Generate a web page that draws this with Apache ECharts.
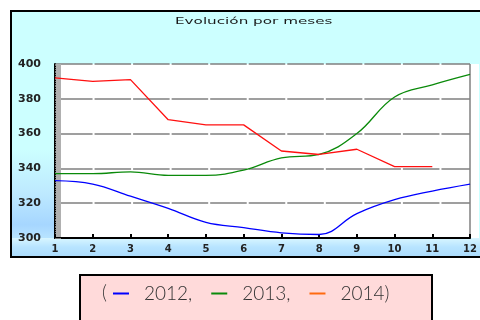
<!DOCTYPE html>
<html>
<head>
<meta charset="utf-8">
<script src="https://cdn.jsdelivr.net/npm/echarts@6/dist/echarts.min.js"></script>
<style>
  html, body { margin: 0; padding: 0; background: #ffffff; }
  #chart { width: 480px; height: 320px; }
</style>
</head>
<body>
<div id="chart"></div>
<script>
// Monthly values per year
const months = ['1', '2', '3', '4', '5', '6', '7', '8', '9', '10', '11', '12'];
const years = ['2012', '2013', '2014'];
const values2012 = [333, 331, 324, 317, 309, 306, 303, 302, 314, 322, 327, 331];
const values2013 = [337, 337, 338, 336, 336, 339, 346, 348, 360, 381, 388, 394];
const values2014 = [392, 390, 391, 368, 365, 365, 350, 348, 351, 341, 341, null];
const yTicks = [300, 320, 340, 360, 380, 400];
const chartTitle = 'Evolución por meses';

const lineColors = ['#0000ff', '#0a8a0a', '#ff1010'];
const legendColors = ['#0000ff', '#0a8a0a', '#ff6a10'];

const gridLeft = 55, gridTop = 64, gridRight = 1, gridBottom = 82;
const plotW = 480 - gridLeft - gridRight, plotH = 320 - gridTop - gridBottom;
const step = plotW / (months.length - 1);

const chart = echarts.init(document.getElementById('chart'), null, { renderer: 'canvas' });

const option = {
  animation: false,
  graphic: [
    // outer panel
    { type: 'rect', z: -10, shape: { x: 11, y: 11, width: 480, height: 246 },
      style: { fill: '#ccffff', stroke: '#000', lineWidth: 2 } },
    // shaded value-label column
    { type: 'rect', z: -9, shape: { x: 12, y: 150, width: 43, height: 88 },
      style: { fill: new echarts.graphic.LinearGradient(0, 0, 0, 1, [
        { offset: 0, color: '#ccffff' },
        { offset: 0.5, color: '#bde9ff' },
        { offset: 0.85, color: '#a6d6ff' },
        { offset: 1, color: '#b8e4ff' }
      ]) } },
    // shaded month-label band
    { type: 'rect', z: -9, shape: { x: 12, y: 238, width: 470, height: 18 },
      style: { fill: new echarts.graphic.LinearGradient(0, 0, 0, 1, [
        { offset: 0, color: '#d8f6ff' },
        { offset: 0.5, color: '#b8e4ff' },
        { offset: 1, color: '#acdcfc' }
      ]) } },
    // white plot area
    { type: 'rect', z: -8, shape: { x: gridLeft, y: gridTop, width: plotW, height: plotH },
      style: { fill: '#ffffff' } },
    // fine hatching along the value axis, above the axes but below the series
    { type: 'rect', z: 1, shape: { x: gridLeft + 1, y: gridTop, width: 5, height: plotH - 1 },
      style: { fill: '#b0b0b0' } },
    // wide-set chart heading
    { type: 'text', z: 5, x: 175, y: 17, scaleX: 1.6,
      style: { text: chartTitle, font: '9.5px "DejaVu Sans"', fill: '#1a1a1a' } },
    // legend box
    { type: 'rect', z: -10, shape: { x: 80, y: 275, width: 352, height: 60 },
      style: { fill: '#ffdada', stroke: '#000', lineWidth: 2 } },
    { type: 'text', z: 5, x: 102, y: 283,
      style: { text: '(', font: '300 19px Lato', fill: '#333' } }
  ],
  legend: {
    left: 108, top: 279,
    itemWidth: 16, itemHeight: 2,
    itemGap: 19,
    icon: 'rect',
    textStyle: { fontFamily: 'Lato', fontWeight: 300, fontSize: 19, color: '#333', padding: [0, 0, 0, 10] },
    formatter: function (name) { return name === '2014' ? name + ')' : name + ','; },
    data: years.map(function (y, i) { return { name: y, itemStyle: { color: legendColors[i] } }; })
  },
  grid: {
    left: gridLeft, top: gridTop, right: gridRight, bottom: gridBottom,
    show: false
  },
  xAxis: {
    type: 'category',
    data: months,
    boundaryGap: false,
    axisLine: { show: true, lineStyle: { color: '#000', width: 2 } },
    axisTick: { show: true, inside: true, length: 4, lineStyle: { color: '#000', width: 2 } },
    axisLabel: { margin: 6, fontFamily: 'DejaVu Sans', fontWeight: 'bold', fontSize: 10, color: '#222' },
    splitLine: {
      show: true,
      interval: function (i) { return i === months.length - 1; },
      lineStyle: { color: '#808080', width: 1.5 }
    }
  },
  yAxis: {
    type: 'value',
    min: yTicks[0], max: yTicks[yTicks.length - 1], interval: 20,
    axisLine: { show: true, lineStyle: { color: '#000', width: 2 } },
    axisTick: { show: true, inside: true, length: 6, lineStyle: { color: '#777', width: 1 } },
    minorTick: { show: true, splitNumber: 20, length: 6, lineStyle: { color: '#777', width: 1 } },
    axisLabel: { margin: 14, fontFamily: 'DejaVu Sans', fontWeight: 'bold', fontSize: 11, color: '#222' },
    splitLine: {
      show: true,
      lineStyle: { color: '#808080', width: 1.5, type: [step - 2, 2], dashOffset: step - 1 }
    }
  },
  series: [
    { name: years[0], type: 'line', data: values2012, smooth: 0.4, symbol: 'none', z: 3,
      lineStyle: { color: lineColors[0], width: 1.3 }, itemStyle: { color: lineColors[0] } },
    { name: years[1], type: 'line', data: values2013, smooth: 0.4, symbol: 'none', z: 3,
      lineStyle: { color: lineColors[1], width: 1.3 }, itemStyle: { color: lineColors[1] } },
    { name: years[2], type: 'line', data: values2014, smooth: false, symbol: 'none', z: 3,
      lineStyle: { color: lineColors[2], width: 1.3 }, itemStyle: { color: lineColors[2] } }
  ]
};

chart.setOption(option);
</script>
</body>
</html>
